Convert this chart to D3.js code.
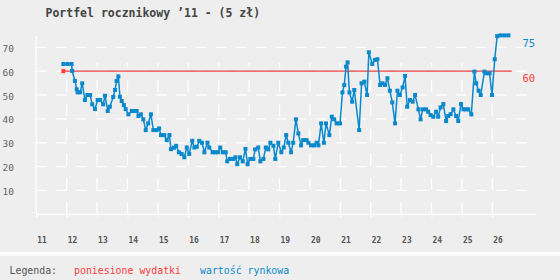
<!DOCTYPE html>
<html>
<head>
<meta charset="utf-8">
<script src="https://d3js.org/d3.v7.min.js"></script>
<style>
	body { margin: 0; background: #eeeeee; }
	svg { display: block; }
</style>
</head>
<body>
<script>

// lata na osi X
const lata = [11, 12, 13, 14, 15, 16, 17, 18, 19, 20, 21, 22, 23, 24, 25, 26];
const poziomy = [10, 20, 30, 40, 50, 60, 70];

// poniesione wydatki
const wydatkiX = [11.89, 26.64];
const wydatkiY = [60, 60];

// wartosc rynkowa
const rynekX = [
	11.89, 12.03, 12.16, 12.18, 12.27, 12.33, 12.36, 12.44, 12.51, 12.60,
	12.68, 12.77, 12.84, 12.93, 13.02, 13.10, 13.20, 13.26, 13.35, 13.42,
	13.53, 13.59, 13.64, 13.70, 13.75, 13.81, 13.88, 13.94, 14.03, 14.14,
	14.22, 14.30, 14.36, 14.44, 14.52, 14.60, 14.68, 14.77, 14.85, 14.96,
	15.04, 15.10, 15.21, 15.29, 15.38, 15.43, 15.53, 15.60, 15.69, 15.78,
	15.87, 15.95, 16.03, 16.13, 16.20, 16.28, 16.36, 16.45, 16.53, 16.63,
	16.69, 16.80, 16.88, 16.97, 17.05, 17.13, 17.23, 17.28, 17.37, 17.48,
	17.55, 17.61, 17.70, 17.79, 17.88, 17.95, 18.04, 18.14, 18.20, 18.30,
	18.37, 18.47, 18.55, 18.63, 18.70, 18.80, 18.86, 18.96, 19.06, 19.14,
	19.22, 19.29, 19.38, 19.45, 19.54, 19.62, 19.71, 19.78, 19.89, 19.95,
	20.04, 20.14, 20.22, 20.28, 20.37, 20.46, 20.53, 20.64, 20.72, 20.80,
	20.88, 20.99, 21.07, 21.13, 21.19, 21.24, 21.30, 21.39, 21.46, 21.62,
	21.70, 21.79, 21.88, 21.94, 22.05, 22.14, 22.22, 22.31, 22.39, 22.47,
	22.55, 22.63, 22.71, 22.80, 22.88, 22.96, 23.05, 23.13, 23.20, 23.29,
	23.38, 23.46, 23.57, 23.64, 23.71, 23.82, 23.89, 23.97, 24.06, 24.15,
	24.22, 24.30, 24.39, 24.48, 24.55, 24.63, 24.72, 24.81, 24.88, 24.97,
	25.05, 25.13, 25.21, 25.31, 25.41, 25.47, 25.55, 25.62, 25.74, 25.80,
	25.91, 25.99, 26.08, 26.16, 26.27, 26.40, 26.53
];
const rynekY = [
	63.0, 63.0, 63.0, 60.1, 55.9, 52.4, 51.1, 51.1, 54.9, 47.9,
	50.0, 50.0, 46.1, 44.1, 47.9, 47.9, 46.1, 49.7, 43.3, 45.1,
	49.2, 52.1, 55.9, 57.8, 49.3, 47.5, 45.8, 44.1, 41.9, 43.3,
	43.3, 43.3, 41.2, 41.9, 39.8, 35.3, 38.1, 41.9, 35.3, 35.3,
	36.0, 33.2, 33.2, 31.1, 33.2, 27.3, 27.9, 28.7, 26.0, 25.3,
	23.9, 28.0, 25.3, 30.8, 28.0, 28.3, 30.8, 30.0, 26.0, 30.0,
	28.0, 26.0, 26.0, 26.0, 28.0, 26.0, 26.0, 22.2, 23.2, 23.2,
	23.9, 21.0, 23.9, 22.2, 27.4, 21.0, 23.2, 23.2, 27.2, 28.0,
	22.2, 23.2, 28.0, 27.2, 30.0, 28.7, 23.2, 30.0, 26.0, 28.0,
	33.2, 30.0, 26.0, 30.0, 39.8, 33.9, 28.9, 31.1, 31.1, 30.0,
	28.9, 28.9, 30.0, 28.9, 38.1, 30.0, 38.1, 33.2, 40.9, 39.8,
	38.1, 38.1, 51.1, 54.2, 61.9, 63.7, 51.1, 47.2, 52.1, 35.3,
	54.9, 55.6, 50.0, 67.9, 63.0, 64.7, 65.0, 54.2, 54.9, 54.2,
	57.0, 51.8, 46.9, 38.1, 51.8, 50.0, 53.2, 58.0, 45.1, 47.9,
	47.2, 50.0, 44.0, 39.8, 44.0, 44.0, 43.0, 41.6, 40.9, 43.0,
	40.9, 44.8, 46.2, 39.1, 41.2, 42.0, 44.0, 41.2, 39.1, 46.2,
	44.0, 44.0, 44.0, 41.9, 59.8, 54.9, 51.8, 50.0, 59.8, 59.1,
	59.1, 50.0, 65.0, 74.7, 75.0, 75.0, 75.0
];

const etykietaRynek = "75";
const etykietaWydatki = "60";

const W = 560, H = 280;
const niebieski = "#0a88cc", czerwony = "#e84040";

var x = d3.scaleLinear().domain([11, 26]).range([36.3, 492.3]);
var y = d3.scaleLinear().domain([0, 70]).range([214.3, 47.3]);

var svg = d3.select("body").append("svg")
	.attr("width", W)
	.attr("height", H)
	.style("font-family", "'DejaVu Sans Mono', monospace");

svg.append("rect").attr("width", W).attr("height", H).attr("fill", "#eeeeee");
// pasek oddzielajacy legende
svg.append("rect").attr("x", 0).attr("y", 252).attr("width", W).attr("height", 3.5).attr("fill", "#ffffff");

// tytul
svg.append("text")
	.attr("x", 45.5)
	.attr("y", 16.5)
	.attr("fill", "#444")
	.style("font-size", "11.5px")
	.style("font-weight", "bold")
	.text("Portfel rocznikowy \u201911 - (5 z\u0142)");

// siatka pozioma
svg.append("g").selectAll("line")
	.data(poziomy)
	.enter().append("line")
	.attr("x1", x(11)).attr("x2", 530)
	.attr("y1", d => y(d)).attr("y2", d => y(d))
	.attr("stroke", "#fff")
	.attr("stroke-width", 1.3)
	.attr("stroke-dasharray", "10,10");

// siatka pionowa
svg.append("g").selectAll("line")
	.data(lata.slice(1))
	.enter().append("line")
	.attr("x1", d => x(d)).attr("x2", d => x(d))
	.attr("y1", y(0)).attr("y2", 63)
	.attr("stroke", "#fff")
	.attr("stroke-width", 1.3)
	.attr("stroke-dasharray", "12,12.5");

// os X
var osX = svg.append("g")
	.attr("transform", "translate(0," + y(0) + ")")
	.call(d3.axisBottom(x).tickValues(lata).tickSize(3).tickSizeOuter(0).tickFormat(d => d));
osX.select(".domain").attr("stroke", "#fff").attr("stroke-width", 1.3).attr("d", "M" + x(11) + ",0H536");
osX.selectAll(".tick line").attr("stroke", "#fff").attr("stroke-width", 1.3);
osX.selectAll(".tick text")
	.attr("text-anchor", "start")
	.attr("x", 0.5)
	.attr("y", 23)
	.attr("fill", "#555")
	.style("font-family", "'DejaVu Sans Mono', monospace")
	.style("font-size", "8px")
	.style("font-weight", "bold");

// os Y
var osY = svg.append("g")
	.attr("transform", "translate(" + x(11) + ",0)")
	.call(d3.axisLeft(y).tickValues(poziomy).tickSize(2).tickSizeOuter(0));
osY.select(".domain").attr("stroke", "#fff").attr("stroke-width", 1.3).attr("d", "M0," + y(0) + "V36");
osY.selectAll(".tick line").attr("stroke", "#fff").attr("stroke-width", 1.3);
osY.selectAll(".tick text")
	.attr("text-anchor", "start")
	.attr("x", -33.8)
	.attr("dy", "0.75em")
	.attr("y", -3)
	.attr("fill", "#666")
	.style("font-family", "'DejaVu Sans Mono', monospace")
	.style("font-size", "9.5px");

// wydatki
var wydatki = wydatkiX.map((d, i) => [d, wydatkiY[i]]);
var rynek = rynekX.map((d, i) => [d, rynekY[i]]);
var linia = d3.line().x(d => x(d[0])).y(d => y(d[1]));

svg.append("path")
	.datum(wydatki)
	.attr("d", linia)
	.attr("fill", "none")
	.attr("stroke", czerwony)
	.attr("stroke-width", 1.3);
svg.append("rect")
	.attr("x", x(wydatki[0][0]) - 2)
	.attr("y", y(wydatki[0][1]) - 2)
	.attr("width", 4).attr("height", 4)
	.attr("fill", "#ff3b3b");

// wartosc rynkowa
svg.append("path")
	.datum(rynek)
	.attr("d", linia)
	.attr("fill", "none")
	.attr("stroke", niebieski)
	.attr("stroke-width", 1.5);
svg.append("g").selectAll("rect")
	.data(rynek)
	.enter().append("rect")
	.attr("x", d => x(d[0]) - 2)
	.attr("y", d => y(d[1]) - 2)
	.attr("width", 4).attr("height", 4)
	.attr("fill", niebieski);

// etykiety na prawo
svg.append("text")
	.attr("x", 522.5)
	.attr("y", 47)
	.attr("fill", niebieski)
	.style("font-size", "10.5px")
	.text(etykietaRynek);
svg.append("text")
	.attr("x", 522.5)
	.attr("y", 82)
	.attr("fill", "#ff3b3b")
	.style("font-size", "10.5px")
	.text(etykietaWydatki);

// legenda
var legenda = svg.append("g").style("font-size", "9.9px");
legenda.append("text").attr("x", 9.5).attr("y", 273.5).attr("fill", "#555").text("Legenda:");
legenda.append("text").attr("x", 74).attr("y", 273.5).attr("fill", "#ff3b3b").text("poniesione wydatki");
legenda.append("text").attr("x", 200).attr("y", 273.5).attr("fill", niebieski).text("warto\u015b\u0107 rynkowa");

</script>
</body>
</html>
